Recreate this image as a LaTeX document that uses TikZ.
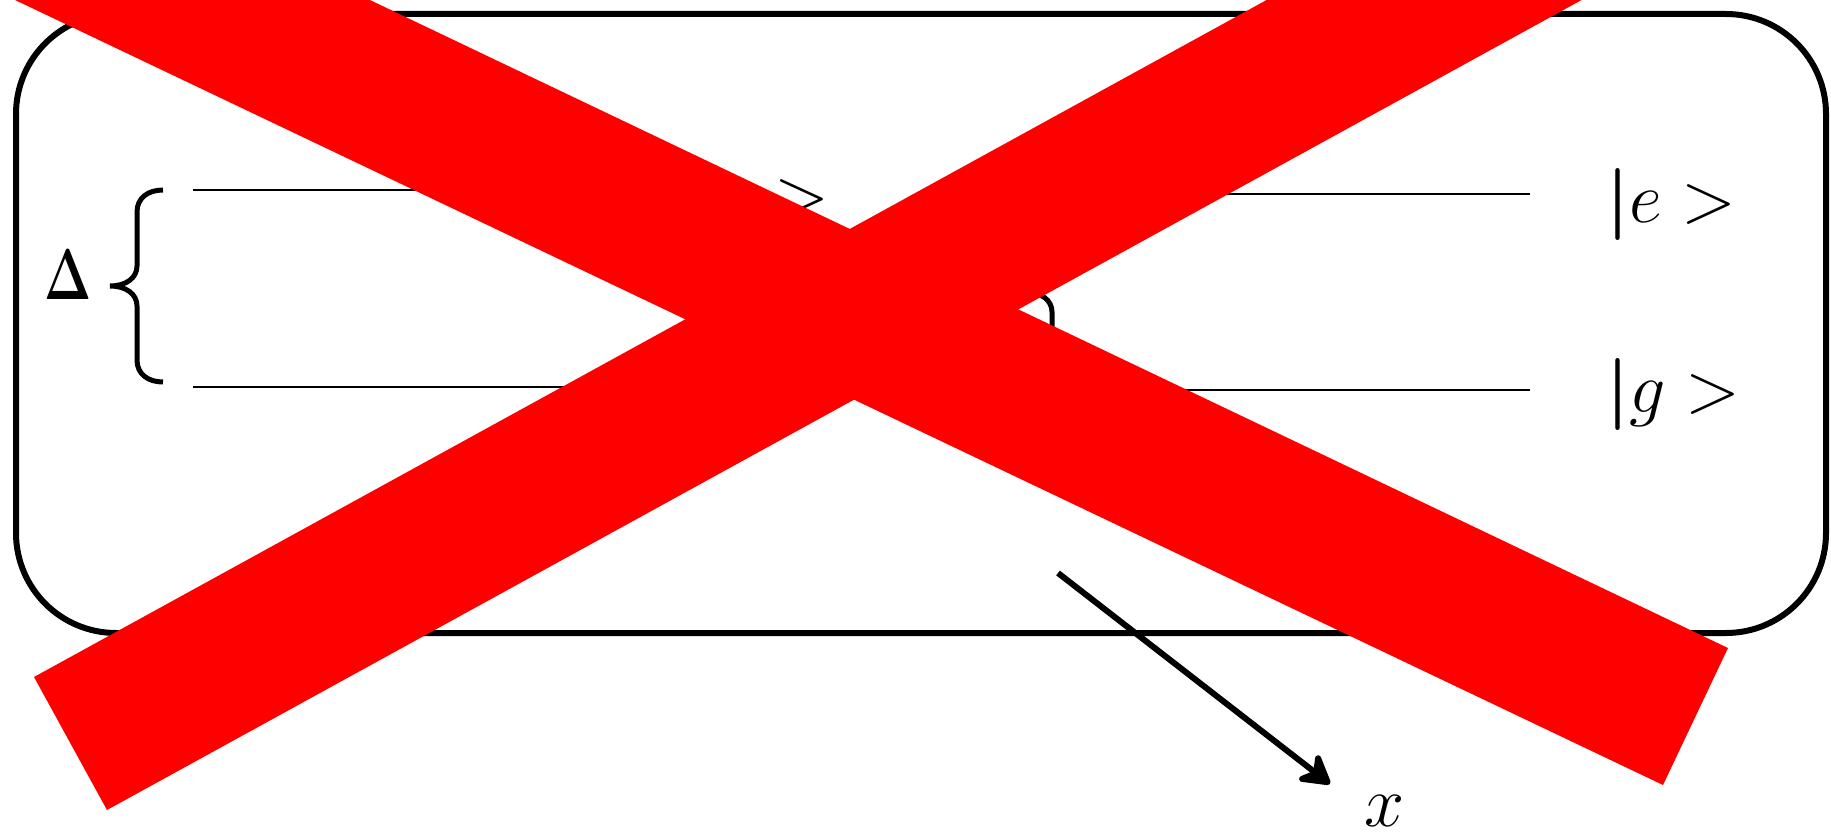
\RequirePackage{fix-cm}
\documentclass[tikz,border=0pt]{standalone}
\usetikzlibrary{arrows.meta}
\begin{document}
\begin{tikzpicture}[x=0.5pt,y=-0.5pt,
  frame/.style={line width=3pt, rounded corners=50pt},
  levelline/.style={line width=1pt},
  bracepath/.style={line width=2.5pt},
  lab/.style={inner sep=0pt, font=\fontsize{36}{40}\selectfont},
  axisarrow/.style={line width=3pt, -{Stealth[length=18pt,width=21pt,inset=6pt,round]}},
  redbar/.style={fill=red, draw=none}]
\useasboundingbox (0,0) rectangle (1831,840);
% frame
\draw[frame] (16,14) rectangle (1826,633);
% energy levels
\coordinate (L1a) at (193,190); \coordinate (L1b) at (700,190);
\coordinate (L2a) at (193,387); \coordinate (L2b) at (700,387);
\coordinate (R1a) at (1100,194); \coordinate (R1b) at (1530,194);
\coordinate (R2a) at (1100,390); \coordinate (R2b) at (1530,390);
\draw[levelline] (L1a) -- (L1b);
\draw[levelline] (L2a) -- (L2b);
\draw[levelline] (R1a) -- (R1b);
\draw[levelline] (R2a) -- (R2b);
% left brace
\draw[bracepath] (163,190) .. controls (148,190) and (137,198) .. (137,212) -- (137,266)
  .. controls (137,278) and (126,286) .. (110,286)
  .. controls (126,286) and (137,294) .. (137,306) -- (137,360)
  .. controls (137,374) and (148,382) .. (163,382);
% middle brace
\draw[bracepath] (1078,196) .. controls (1063,196) and (1052,204) .. (1052,218) -- (1052,272)
  .. controls (1052,284) and (1041,292) .. (1025,292)
  .. controls (1041,292) and (1052,300) .. (1052,312) -- (1052,366)
  .. controls (1052,380) and (1063,388) .. (1078,388);
% labels
\node[lab, anchor=base west] (delta) at (44,299) {\scalebox{0.7}[1]{\boldmath$\Delta$}};
\node[lab, anchor=base west] (midgt) at (774,217) {$>$};
\node[lab, anchor=base west] (kete) at (1606,222) {{\boldmath$|$}$e>$};
\node[lab, anchor=base west] (ketg) at (1606,412) {{\boldmath$|$}$g>$};
% axis arrow
\coordinate (xs) at (1058,573);
\coordinate (xt) at (1330,784);
\draw[axisarrow] (xs) -- (xt);
\node[lab, anchor=base west] (xlab) at (1364,826) {$x$};
% red cross
\fill[redbar] (-27,-20) -- (328,-20) -- (1728,648) -- (1663,785) -- cycle;
\fill[redbar] (34,677) -- (107,810) -- (1618,-20) -- (1303,-20) -- cycle;
\end{tikzpicture}
\end{document}
